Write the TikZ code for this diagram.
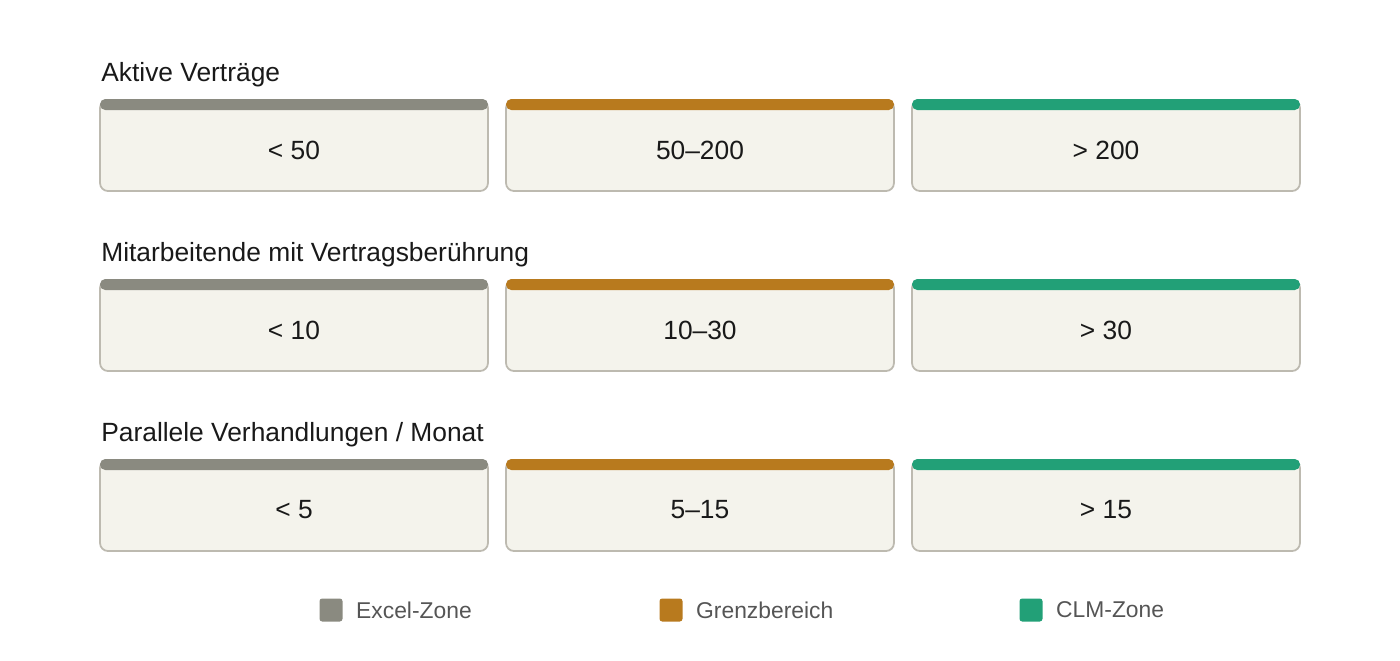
\documentclass[tikz,border=0pt]{standalone}
\usepackage{fontspec}
\setmainfont{Liberation Sans}
\usetikzlibrary{positioning}
\definecolor{excel}{HTML}{8A8A80}
\definecolor{grenz}{HTML}{B87A1E}
\definecolor{clm}{HTML}{22A077}
\definecolor{cardfill}{HTML}{F4F3EC}
\definecolor{cardline}{HTML}{BDBAB0}
\definecolor{legtext}{HTML}{555555}
\tikzset{
	card/.style={
		draw=cardline,
		fill=cardfill,
		line width=1pt,
		rounded corners=4.5pt,
		minimum width=7.76cm,
		minimum height=1.82cm,
		inner sep=0mm,
	},
	cardtext/.style={inner sep=0mm,font=\fontsize{15}{17}\selectfont,text=black!90},
	rowlabel/.style={anchor=west,inner sep=0mm,font=\fontsize{15}{17}\selectfont,text=black!90},
	legbox/.style={fill=#1,rounded corners=1.5pt,minimum size=0.46cm,inner sep=0mm},
	legtxt/.style={right=0.26cm of #1,inner sep=0mm,text=legtext,font=\fontsize{13}{15}\selectfont},
}
\begin{document}
\begin{tikzpicture}[x=0.02cm,y=-0.02cm]
\useasboundingbox (0,0) rectangle (1400,660);
\foreach[count=\r] \lab/\a/\b/\c in {
	Aktive Verträge/< 50/50–200/> 200
	,Mitarbeitende mit Vertragsberührung/< 10/10–30/> 30
	,{Parallele Verhandlungen / Monat}/< 5/5–15/> 15%
}{
	\pgfmathsetmacro\yt{100+180*(\r-1)}
	\node[rowlabel] (label\r) at (101,\yt-25) {\lab};
	\foreach[count=\k] \txt/\col/\xl in {\a/excel/100,\b/grenz/506,\c/clm/912}{
		\node[card] (card\r\k) at (\xl+194,\yt+45.5) {};
		\fill[\col,rounded corners=3pt] (\xl,\yt+10) -- (\xl,\yt-1) -- (\xl+388,\yt-1) -- (\xl+388,\yt+10) -- cycle;
		\node[cardtext] (val\r\k) at (\xl+194,\yt+50) {\txt};
	}
}
% legend
\foreach \nm/\col/\x/\txt in {ex/excel/331/Excel-Zone,gr/grenz/671/Grenzbereich,cl/clm/1031/CLM-Zone}{
	\node[legbox=\col] (\nm) at (\x,610) {};
	\node[legtxt=\nm] (\nm txt) {\txt};
}
\end{tikzpicture}
\end{document}
